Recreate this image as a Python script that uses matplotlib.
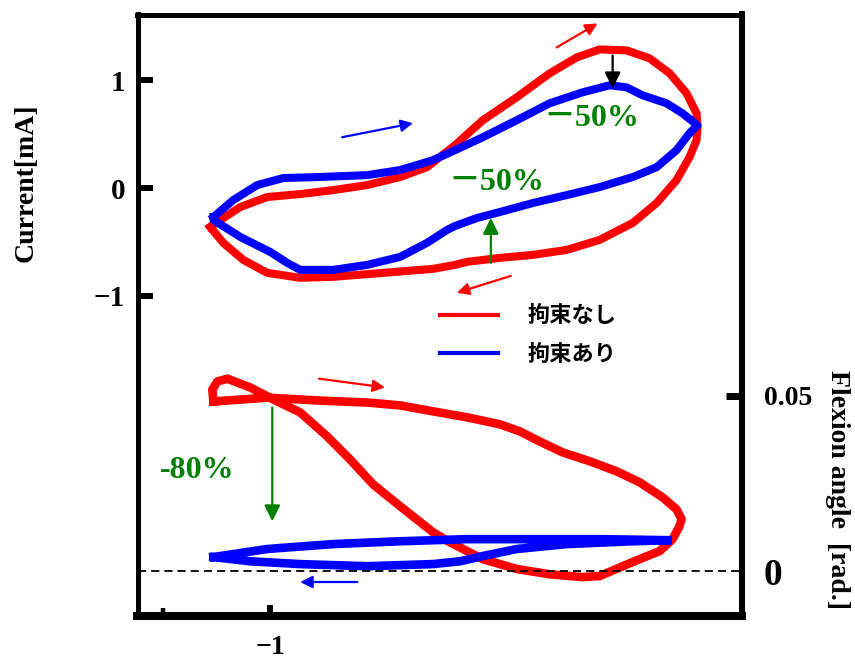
import matplotlib.pyplot as plt
from matplotlib.lines import Line2D

plt.rcParams['font.family'] = ['Liberation Serif', 'Noto Sans CJK JP']
plt.rcParams['font.weight'] = 'bold'

# shared horizontal input for both loop pairs
# upper loops: current [mA], without / with restraint
free_cur_x = [-1.323, -1.269, -1.161, -1.016, -0.839, -0.661, -0.478, -0.301, -0.156, -0.005,
              0.145, 0.328, 0.505, 0.651, 0.774, 0.919, 1.043, 1.151, 1.242, 1.296,
              1.301, 1.296, 1.258, 1.188, 1.081, 0.952, 0.774, 0.597, 0.414, 0.237,
              0.059, -0.005, -0.124, -0.392, -0.661, -0.839, -1.016, -1.145, -1.253, -1.323]
free_cur_y = [-0.361, -0.296, -0.176, -0.083, -0.056, -0.019, 0.028, 0.102, 0.194, 0.398,
              0.630, 0.843, 1.065, 1.213, 1.287, 1.278, 1.204, 1.065, 0.880, 0.694,
              0.565, 0.444, 0.287, 0.074, -0.139, -0.324, -0.481, -0.574, -0.620, -0.648,
              -0.685, -0.713, -0.750, -0.787, -0.824, -0.833, -0.787, -0.667, -0.509, -0.361]

fixed_cur_x = [-1.306, -1.199, -1.070, -0.930, -0.747, -0.478, -0.301, -0.124, -0.005, 0.145,
               0.328, 0.505, 0.683, 0.828, 0.919, 1.005, 1.134, 1.220, 1.301, 1.258,
               1.188, 1.081, 0.952, 0.774, 0.597, 0.414, 0.237, 0.113, -0.005, -0.048,
               -0.156, -0.301, -0.478, -0.661, -0.839, -0.909, -1.0, -1.161, -1.306, -1.306]
fixed_cur_y = [-0.269, -0.111, 0.028, 0.093, 0.102, 0.120, 0.167, 0.259, 0.352, 0.472,
               0.630, 0.787, 0.889, 0.954, 0.935, 0.861, 0.787, 0.694, 0.583, 0.509,
               0.352, 0.194, 0.102, 0.009, -0.065, -0.139, -0.222, -0.278, -0.352, -0.389,
               -0.509, -0.639, -0.713, -0.759, -0.759, -0.694, -0.593, -0.454, -0.296, -0.269]

# lower loops: flexion angle [rad.]
free_ang_x = [-1.306, -1.016, -0.747, -0.478, -0.301, -0.124, 0.059, 0.237, 0.344, 0.452,
              0.575, 0.720, 0.866, 0.989, 1.113, 1.188, 1.215, 1.204, 1.167, 1.097,
              0.952, 0.774, 0.683, 0.505, 0.328, 0.145, -0.032, -0.124, -0.301, -0.446,
              -0.570, -0.694, -0.839, -0.962, -1.108, -1.231, -1.285, -1.312, -1.306]
free_ang_y = [0.0483, 0.0494, 0.0486, 0.0480, 0.0472, 0.0455, 0.0438, 0.0418, 0.0398, 0.0369,
              0.0338, 0.0313, 0.0284, 0.0253, 0.0210, 0.0176, 0.0148, 0.0128, 0.0091, 0.0057,
              0.0026, -0.0014, -0.0017, -0.0009, 0.0006, 0.0034, 0.0082, 0.0111, 0.0185, 0.0247,
              0.0318, 0.0384, 0.0452, 0.0483, 0.0523, 0.0548, 0.0540, 0.0517, 0.0483]

fixed_ang_x = [-1.306, -1.016, -0.661, -0.301, 0.059, 0.414, 0.774, 1.161, 0.952, 0.597,
               0.328, 0.145, 0.022, -0.124, -0.478, -0.839, -1.108, -1.306]
fixed_ang_y = [0.0040, 0.0063, 0.0077, 0.0085, 0.0091, 0.0091, 0.0091, 0.0088, 0.0085, 0.0077,
               0.0063, 0.0043, 0.0028, 0.0020, 0.0014, 0.0020, 0.0028, 0.0040]

legend_labels = ['拘束なし', '拘束あり']
cur_ticks = [-1, 0, 1]
ang_ticks = [0, 0.05]
ang_ticklabels = ['0', '0.05']
x_ticks = [-1]

RED = '#ff0000'
BLUE = '#0000ff'
GREEN = '#008000'

fig = plt.figure(figsize=(8.55, 6.6), dpi=100)
ax = fig.add_axes([137.5 / 855, 1 - 616 / 660, 604 / 855, 601.5 / 660])
ax2 = ax.twinx()

ax.set_xlim(-1.715, 1.538)
ax.set_ylim(-3.972, 1.611)
ax2.set_ylim(-0.01278, 0.1585)

# current loops
ax.plot(free_cur_x, free_cur_y, color=RED, lw=5.8, solid_joinstyle='round', zorder=2)
ax.plot(fixed_cur_x, fixed_cur_y, color=BLUE, lw=5.8, solid_joinstyle='round', zorder=3)

# flexion angle loops
ax2.plot(free_ang_x, free_ang_y, color=RED, lw=6.2, solid_joinstyle='round', zorder=2)
ax2.plot(fixed_ang_x, fixed_ang_y, color=BLUE, lw=6.2, solid_joinstyle='miter', zorder=3)
ax2.axhline(0, color='black', lw=1.3, ls=(0, (4.5, 2.8)), zorder=5)

# spines and ticks
for side, w in [('left', 3.6), ('top', 3.6), ('right', 4.3), ('bottom', 5.8)]:
    ax.spines[side].set_linewidth(w)
    ax2.spines[side].set_visible(False)
ax2.spines['right'].set_visible(True)
ax2.spines['right'].set_linewidth(4.3)
ax.spines['right'].set_visible(False)

ax.set_yticks(cur_ticks)
ax.tick_params(axis='y', direction='in', length=10.5, width=4.3, pad=9, labelsize=21)
ax.set_xticks(x_ticks)
ax.set_xticks([-1.58], minor=True)
ax.tick_params(axis='x', which='major', direction='in', length=8, width=4.3, pad=14, labelsize=20)
ax.tick_params(axis='x', which='minor', direction='in', length=6, width=3.2)

ax2.set_yticks(ang_ticks, labels=ang_ticklabels)
ax2.tick_params(axis='y', direction='in', length=11.5, width=5, pad=16, labelsize=20)
ax2.yaxis.get_major_ticks()[0].tick2line.set_visible(False)
ax2.get_yticklabels()[0].set_fontsize(27)

fig.text(26 / 855, 1 - 183 / 660, 'Current[mA]', rotation=90, ha='center', va='center',
         fontsize=20, fontweight='bold')
fig.text(837 / 855, 1 - 490 / 660, 'Flexion angle  [rad.]', rotation=-90, ha='center',
         va='center', fontsize=20, fontweight='bold')

# direction and change arrows
def arrow(a, tail, head, color, scale=18, lw=1.6):
    a.annotate('', xy=head, xytext=tail,
               arrowprops=dict(arrowstyle='-|>', color=color, lw=lw, mutation_scale=scale,
                               shrinkA=0, shrinkB=0))

arrow(ax, (0.543, 1.306), (0.763, 1.528), RED)
arrow(ax, (-0.613, 0.472), (-0.231, 0.602), BLUE)
arrow(ax, (0.844, 1.231), (0.844, 0.926), 'black', scale=24)
arrow(ax, (0.188, -0.694), (0.188, -0.278), GREEN, scale=24)
arrow(ax, (0.296, -0.815), (0.005, -0.972), RED)
arrow(ax2, (-0.737, 0.0548), (-0.382, 0.0523), RED)
arrow(ax2, (-0.989, 0.0466), (-0.989, 0.0142), GREEN, scale=24)
arrow(ax2, (-0.532, -0.0031), (-0.839, -0.0031), BLUE)

ax.text(0.731, 0.648, '－50%', color=GREEN, fontsize=23, fontweight='bold',
        ha='center', va='center')
ax.text(0.220, 0.056, '－50%', color=GREEN, fontsize=23, fontweight='bold',
        ha='center', va='center')
ax2.text(-1.392, 0.0287, '-80%', color=GREEN, fontsize=23, fontweight='bold',
         ha='center', va='center')

handles = [Line2D([], [], color=RED, lw=3), Line2D([], [], color=BLUE, lw=3)]
ax.legend(handles, legend_labels, loc='upper left', bbox_to_anchor=(0.501, 0.518),
          frameon=False, borderpad=0, borderaxespad=0, handlelength=2.6,
          handletextpad=1.35, labelspacing=0.7,
          prop=dict(family='Noto Sans CJK JP', weight='bold', size=16))

fig.savefig('out.png', dpi=100)
